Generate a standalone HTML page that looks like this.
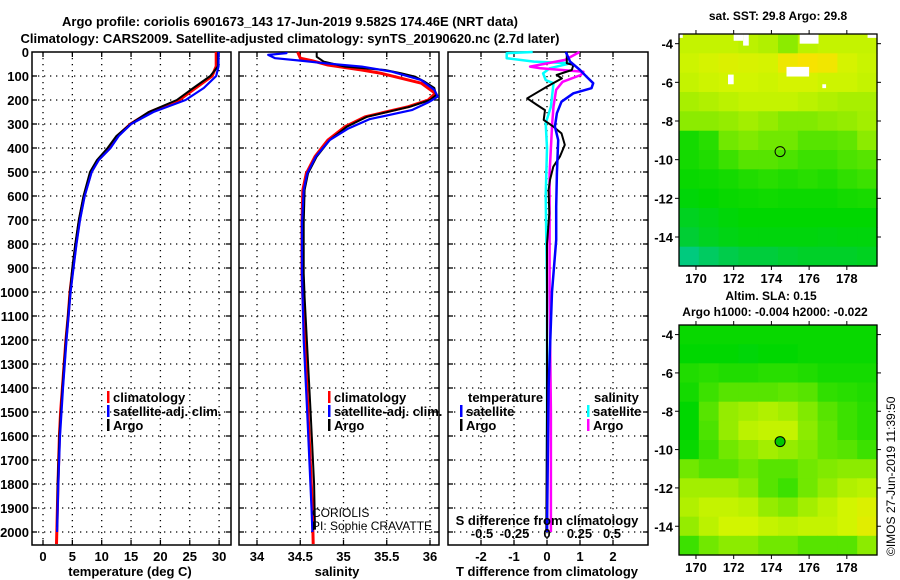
<!DOCTYPE html>
<html><head><meta charset="utf-8"><style>
html,body{margin:0;padding:0;background:#fff;}
svg{display:block;font-family:"Liberation Sans",sans-serif;}
.b{font-weight:bold;font-size:13px;}
.n{font-size:12px;}
</style></head><body>
<svg id="s" width="900" height="580" xmlns="http://www.w3.org/2000/svg">
<text x="290" y="26" text-anchor="middle" class="b" style="font-size:13px">Argo profile: coriolis 6901673_143 17-Jun-2019 9.582S 174.46E (NRT data)</text>
<text x="290" y="43" text-anchor="middle" class="b" style="font-size:13px">Climatology: CARS2009. Satellite-adjusted climatology: synTS_20190620.nc (2.7d later)</text>
<text x="778" y="20" text-anchor="middle" class="b" style="font-size:12px">sat. SST: 29.8 Argo: 29.8</text>
<text x="771" y="300" text-anchor="middle" class="b" style="font-size:12px">Altim. SLA: 0.15</text>
<text x="775" y="316" text-anchor="middle" class="b" style="font-size:12px">Argo h1000: -0.004 h2000: -0.022</text>
<text transform="translate(895,556) rotate(-90)" style="font-size:12px">©IMOS 27-Jun-2019 11:39:50</text>
<g id="g"></g>
</svg>
<script>
// ---------- data ----------
const depthTicks=[0,100,200,300,400,500,600,700,800,900,1000,1100,1200,1300,1400,1500,1600,1700,1800,1900,2000];
const tTicks=[0,5,10,15,20,25,30];
const sTicks=[34,34.5,35,35.5,36];
const sTickLabels=["34","34.5","35","35.5","36"];
const dtTicks=[-2,-1,0,1,2];
const dsTicks=[-0.5,-0.25,0,0.25,0.5];
const dsTickLabels=["-0.5","-0.25","0","0.25","0.5"];
// temperature profiles
const tClimDepth=[0,60,100,150,200,250,300,350,400,450,500,600,700,800,900,1000,1100,1200,1400,1500,1600,1800,2000,2050];
const tClimVal=[29.5,29.5,28.8,26.0,23.2,18.2,14.9,12.7,11.4,9.4,8.2,7.0,6.2,5.6,5.1,4.6,4.3,3.9,3.3,3.0,2.8,2.55,2.35,2.3];
const tArgoDepth=[0,60,100,150,200,250,300,350,400,450,500,600,700,800,900,1000,1200,1400,1600,1800,1980];
const tArgoVal=[29.8,29.8,28.5,25.6,22.8,18.0,14.9,12.5,11.0,9.2,8.0,6.9,6.1,5.5,5.0,4.6,3.9,3.3,2.8,2.5,2.4];
const tSatDepth=[0,60,100,150,200,250,300,350,400,450,500,600,700,800,900,1000,1200,1400,1600,1800,2000];
const tSatVal=[29.9,29.9,29.5,27.4,24.3,18.8,15.0,12.9,11.5,9.5,8.3,7.1,6.3,5.7,5.2,4.7,4.0,3.4,2.9,2.6,2.4];
// salinity profiles
const sClimDepth=[0,26,36,54,75,89,130,172,200,228,270,311,367,436,506,575,714,922,1020,1500,1900,2050];
const sClimVal=[34.47,34.50,34.63,34.82,35.21,35.44,35.90,36.06,35.98,35.75,35.25,35.02,34.82,34.67,34.57,34.53,34.52,34.52,34.53,34.59,34.64,34.65];
const sArgoDepth=[0,20,40,61,75,89,103,124,150,179,200,228,270,311,367,436,506,575,714,922,1020,1500,1800,1990];
const sArgoVal=[34.69,34.69,34.77,35.02,35.48,35.67,35.83,35.94,36.05,36.07,36.0,35.77,35.27,35.04,34.84,34.69,34.59,34.55,34.54,34.54,34.55,34.62,34.66,34.67];
const sSatDepth=[0,5,12,26,36,47,61,82,117,158,186,210,242,280,320,367,436,506,575,714,922,1200,1500,1900,2000];
const sSatVal=[34.34,34.34,34.13,34.21,34.50,34.79,35.21,35.56,35.90,36.05,36.09,35.98,35.79,35.3,35.05,34.84,34.68,34.58,34.54,34.52,34.52,34.54,34.58,34.63,34.64];
// differences
const dtArgoDepth=[0,47,54,75,96,110,144,193,221,242,283,311,339,387,436,478,533,575,672,800,1000,1500,2000];
const dtArgoVal=[0.6,0.6,0.8,0.75,0.29,0.45,0.0,-0.6,-0.3,-0.06,-0.1,0.19,0.44,0.54,0.39,0.19,0.09,0.05,0.07,0.0,0.0,0.0,-0.02];
const dtSatDepth=[0,40,75,103,130,151,172,207,255,311,367,506,644,783,1000,1400,2000];
const dtSatVal=[0.57,0.7,1.0,1.2,1.4,1.35,0.8,0.44,0.3,0.24,0.34,0.3,0.28,0.28,0.15,0.05,0.0];
const dsArgoDepth=[0,33,61,68,82,96,124,158,228,297,400,506,1000,1500,2000];
const dsArgoVal=[0.25,0.14,-0.13,-0.05,0.28,0.26,0.12,0.07,0.05,0.04,0.03,0.02,0.02,0.03,0.03];
const dsSatDepth=[0,5,26,40,47,68,89,117,130,228,297,400,600,1000,1500,2000];
const dsSatVal=[-0.11,-0.31,-0.31,-0.1,0.18,0.02,-0.03,-0.01,0.05,0.03,-0.01,0.0,-0.01,0.0,0.0,0.0];
// maps (rows: lat -3.5 .. -15.5 by 1 deg, cols: lon 169.1 .. 179.6)
const sstGrid=[
[0.72,0.72,0.72,0.7,0.68,0.6,0.7,0.72,0.72,0.72],
[0.74,0.76,0.78,0.77,0.76,0.84,0.87,0.85,0.76,0.73],
[0.72,0.74,0.75,0.75,0.74,0.76,0.76,0.74,0.74,0.72],
[0.66,0.68,0.7,0.72,0.72,0.72,0.7,0.68,0.66,0.66],
[0.6,0.6,0.62,0.65,0.62,0.58,0.58,0.6,0.62,0.65],
[0.35,0.4,0.55,0.58,0.55,0.55,0.5,0.5,0.52,0.6],
[0.35,0.38,0.45,0.5,0.5,0.48,0.45,0.45,0.48,0.5],
[0.32,0.33,0.35,0.38,0.4,0.38,0.4,0.38,0.42,0.45],
[0.28,0.3,0.32,0.33,0.34,0.33,0.33,0.33,0.35,0.36],
[0.22,0.25,0.28,0.3,0.3,0.3,0.3,0.3,0.3,0.3],
[0.17,0.22,0.25,0.27,0.27,0.27,0.27,0.26,0.27,0.27],
[0.06,0.1,0.13,0.15,0.15,0.18,0.2,0.2,0.2,0.22]];
const slaGrid=[
[0.32,0.32,0.32,0.32,0.32,0.32,0.32,0.32,0.32,0.32],
[0.3,0.3,0.3,0.28,0.3,0.3,0.32,0.32,0.32,0.32],
[0.38,0.4,0.38,0.38,0.4,0.4,0.38,0.35,0.35,0.35],
[0.35,0.45,0.5,0.5,0.5,0.52,0.5,0.42,0.4,0.38],
[0.3,0.5,0.62,0.65,0.68,0.65,0.58,0.5,0.45,0.4],
[0.3,0.48,0.62,0.7,0.72,0.72,0.6,0.52,0.45,0.4],
[0.32,0.45,0.55,0.6,0.65,0.62,0.58,0.52,0.5,0.45],
[0.55,0.5,0.5,0.55,0.5,0.5,0.55,0.58,0.6,0.6],
[0.65,0.65,0.65,0.6,0.5,0.45,0.55,0.62,0.68,0.7],
[0.68,0.72,0.72,0.7,0.62,0.58,0.65,0.7,0.75,0.78],
[0.62,0.7,0.75,0.75,0.72,0.7,0.72,0.72,0.75,0.8],
[0.45,0.55,0.6,0.6,0.55,0.55,0.5,0.5,0.5,0.6]];
const lonTicks=[170,172,174,176,178];
const latTicks=[-4,-6,-8,-10,-12,-14];
const argoLon=174.46, argoLat=-9.582;

// ---------- drawing ----------
const NS="http://www.w3.org/2000/svg";
const G=document.getElementById('g');
function el(tag,attrs,parent){const e=document.createElementNS(NS,tag);for(const k in attrs)e.setAttribute(k,attrs[k]);(parent||G).appendChild(e);return e;}
function txt(x,y,s,anchor,cls,extra){const t=el('text',Object.assign({x:x,y:y,'text-anchor':anchor||'middle','class':cls||'b'},extra||{}));t.textContent=s;return t;}
const Y0=52,Y1=545;
const yD=d=>Y0+d*0.24;
const panels=[
 {x0:32,x1:231,name:'temperature-panel',xs:v=>43+5.87*v},
 {x0:239,x1:439,name:'salinity-panel',xs:v=>257+86.5*(v-34)},
 {x0:448,x1:648,name:'difference-panel',xs:v=>547+33*v}];
const dsX=v=>547+130*v;
// y labels
depthTicks.forEach(d=>{const t=txt(29,yD(d)+5,String(d),'end');});
panels.forEach((p,i)=>{
 const f=el('g',{});
 
 
 depthTicks.slice(1).forEach(d=>{
  const l=el('line',{x1:p.x0,x2:p.x1,y1:yD(d),y2:yD(d),stroke:'#000','stroke-width':1.3,'stroke-dasharray':'1.3 4.7'},f);
  
  
  el('line',{x1:p.x0,x2:p.x0+5,y1:yD(d),y2:yD(d),stroke:'#000','stroke-width':1.3},f);
  el('line',{x1:p.x1-5,x2:p.x1,y1:yD(d),y2:yD(d),stroke:'#000','stroke-width':1.3},f);
 });
 const ticks=i===0?tTicks:i===1?sTicks:dtTicks;
 ticks.forEach((v,k)=>{
  const x=p.xs(v);
  const l=el('line',{x1:x,x2:x,y1:Y0,y2:Y1,stroke:'#000','stroke-width':1.3,'stroke-dasharray':'1.3 4.7'},f);
  
  
  el('line',{x1:x,x2:x,y1:Y0,y2:Y0+5,stroke:'#000','stroke-width':1.3},f);
  el('line',{x1:x,x2:x,y1:Y1-5,y2:Y1,stroke:'#000','stroke-width':1.3},f);
  const lab=i===1?sTickLabels[k]:String(v);
  const t=txt(x,561,lab,'middle');
  
  
 });
 const r=el('rect',{x:p.x0,y:Y0,width:p.x1-p.x0,height:Y1-Y0,fill:'none',stroke:'#000','stroke-width':1.5},f);
 
 
});
function line(depths,vals,fx,color,w,name){
 const pts=depths.map((d,i)=>fx(vals[i]).toFixed(1)+','+yD(d).toFixed(1)).join(' ');
 const pl=el('polyline',{points:pts,fill:'none',stroke:color,'stroke-width':w,'stroke-linejoin':'round'});
 
 
}
const P=panels;
line(tClimDepth,tClimVal,P[0].xs,'#f00',3,'temperature-climatology-line');
line(tArgoDepth,tArgoVal,P[0].xs,'#000',2,'temperature-argo-line');
line(tSatDepth,tSatVal,P[0].xs,'#00f',2.2,'temperature-satellite-line');
line(sClimDepth,sClimVal,P[1].xs,'#f00',3,'salinity-climatology-line');
line(sArgoDepth,sArgoVal,P[1].xs,'#000',2,'salinity-argo-line');
line(sSatDepth,sSatVal,P[1].xs,'#00f',2.2,'salinity-satellite-line');
line(dsSatDepth,dsSatVal,dsX,'#0ff',2.5,'salinity-diff-satellite-line');
line(dsArgoDepth,dsArgoVal,dsX,'#f0f',2.5,'salinity-diff-argo-line');
line(dtArgoDepth,dtArgoVal,P[2].xs,'#000',2,'temperature-diff-argo-line');
line(dtSatDepth,dtSatVal,P[2].xs,'#00f',2.5,'temperature-diff-satellite-line');
dsTicks.forEach((v,k)=>{const t=txt(dsX(v),538,dsTickLabels[k],'middle');});
let t;
t=txt(547,525,'S difference from climatology','middle');
t=txt(130,576,'temperature (deg C)','middle');
t=txt(337,576,'salinity','middle');
t=txt(547,576,'T difference from climatology','middle');
t=txt(312,517,'CORIOLIS','start','n');
t=txt(312,530,'PI: Sophie CRAVATTE','start','n');
function legend(x,y,color,label,name){
 const g=el('g',{});
 
 
 el('rect',{x:x,y:y-11,width:2.5,height:12,fill:color},g);
 const tt=el('text',{x:x+6,y:y,'class':'b'},g);tt.textContent=label;
}
legend(107,402,'#f00','climatology','legend-climatology');
legend(107,416,'#00f','satellite-adj. clim.','legend-satellite');
legend(107,430,'#000','Argo','legend-argo');
legend(328,402,'#f00','climatology','legend-s-climatology');
legend(328,416,'#00f','satellite-adj. clim.','legend-s-satellite');
legend(328,430,'#000','Argo','legend-s-argo');
t=txt(468,402,'temperature','start');
t=txt(594,402,'salinity','start');
legend(460,416,'#00f','satellite','legend-t-satellite');
legend(460,430,'#000','Argo','legend-t-argo');
legend(587,416,'#0ff','satellite','legend-s-diff-satellite');
legend(587,430,'#f0f','Argo','legend-s-diff-argo');
const cmapStops=[[0,[0,200,170]],[0.15,[0,205,60]],[0.3,[0,215,0]],[0.45,[60,225,0]],[0.6,[140,235,0]],[0.75,[210,245,0]],[0.88,[250,225,0]],[1,[255,160,0]]];
function cmap(v){for(let i=1;i<cmapStops.length;i++){if(v<=cmapStops[i][0]){const a=cmapStops[i-1],b=cmapStops[i],f=(v-a[0])/(b[0]-a[0]);return 'rgb('+a[1].map((c,j)=>Math.round(c+(b[1][j]-c)*f)).join(',')+')';}}return 'rgb(255,160,0)';}
const LON0=169.1,LON1=179.6,LAT0=-3.5,LAT1=-15.5;
function drawMap(grid,mx0,mx1,my0,my1,name,filledMarker,whites){
 const g=el('g',{});
 
 
 const lx=v=>mx0+(v-LON0)/(LON1-LON0)*(mx1-mx0);
 const ly=v=>my0+(v-LAT0)/(LAT1-LAT0)*(my1-my0);
 const nr=grid.length,nc=grid[0].length;
 grid.forEach((row,r)=>row.forEach((v,c)=>{
  const x=lx(LON0+c*(LON1-LON0)/nc),y=ly(LAT0+r*(LAT1-LAT0)/nr);
  const cell=el('rect',{x:x.toFixed(1),y:y.toFixed(1),width:((mx1-mx0)/nc+0.6).toFixed(1),height:((my1-my0)/nr+0.6).toFixed(1),fill:cmap(v)},g);
  
  
 }));
 (whites||[]).forEach(w=>{el('rect',{x:lx(w[0]),y:ly(w[1]),width:lx(w[2])-lx(w[0]),height:ly(w[3])-ly(w[1]),fill:'#fff'},g);});
 const m=el('circle',{cx:lx(argoLon),cy:ly(argoLat),r:5,fill:filledMarker?'#00c800':'none',stroke:'#000','stroke-width':1},g);
 
 
 el('rect',{x:mx0,y:my0,width:mx1-mx0,height:my1-my0,fill:'none',stroke:'#000','stroke-width':1.3},g);
 lonTicks.forEach(v=>{const x=lx(v);el('line',{x1:x,x2:x,y1:my0-4,y2:my0,stroke:'#000'},g);el('line',{x1:x,x2:x,y1:my1,y2:my1+4,stroke:'#000'},g);const tt=txt(x,my1+17,String(v),'middle');});
 latTicks.forEach(v=>{const y=ly(v);el('line',{x1:mx0-4,x2:mx0,y1:y,y2:y,stroke:'#000'},g);el('line',{x1:mx1,x2:mx1+4,y1:y,y2:y,stroke:'#000'},g);const tt=txt(mx0-6,y+5,String(v),'end');});
}
drawMap(sstGrid,679,877,34,266,'sst-map',false,[[169.1,-3.5,169.3,-3.7],[172.0,-3.5,172.5,-3.85],[172.5,-3.5,172.8,-4.1],[175.5,-3.5,176.5,-4.0],[174.8,-5.2,176.0,-5.7],[171.7,-5.6,172.0,-6.1],[176.7,-6.1,176.9,-6.3],[179.1,-3.5,179.6,-3.7]]);
drawMap(slaGrid,679,877,325,555,'sla-map',true,[]);
</script>
</body></html>
